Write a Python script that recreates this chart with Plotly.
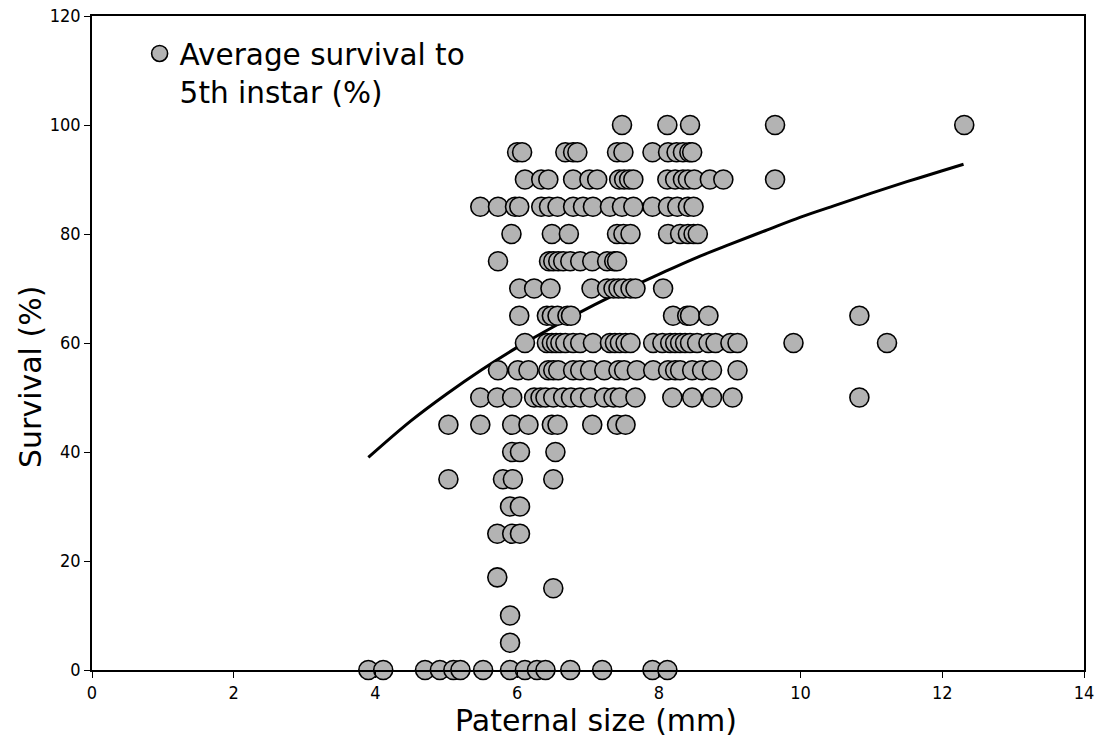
import plotly.graph_objects as go

# Paternal size (mm) per survival level (%)
row_100 = [7.48, 8.12, 8.44, 9.64, 12.31]
row_95 = [6.00, 6.07, 6.68, 6.79, 6.85, 7.41, 7.50, 7.91, 8.13, 8.25, 8.34, 8.43, 8.47]
row_90 = [6.11, 6.34, 6.44, 6.79, 7.02, 7.13, 7.44, 7.51, 7.58, 7.64, 8.12, 8.23, 8.34, 8.41, 8.50, 8.72, 8.91, 9.64]
row_85 = [5.48, 5.73, 5.97, 6.03, 6.34, 6.45, 6.57, 6.79, 6.93, 7.07, 7.31, 7.48, 7.64, 7.91, 8.13, 8.26, 8.41, 8.49]
row_80 = [5.92, 6.49, 6.73, 7.41, 7.50, 7.60, 8.13, 8.30, 8.41, 8.49, 8.55]
row_75 = [5.73, 6.45, 6.51, 6.58, 6.65, 6.75, 6.89, 7.06, 7.27, 7.37, 7.41]
row_70 = [6.03, 6.24, 6.47, 7.05, 7.27, 7.36, 7.43, 7.50, 7.60, 7.67, 8.06]
row_65 = [6.03, 6.42, 6.49, 6.57, 6.71, 6.76, 8.20, 8.40, 8.44, 8.70, 10.83]
row_60 = [6.11, 6.42, 6.49, 6.55, 6.61, 6.68, 6.79, 6.89, 7.07, 7.31, 7.38, 7.45, 7.53, 7.60,
          7.92, 8.05, 8.16, 8.23, 8.30, 8.37, 8.44, 8.54, 8.70, 8.80, 9.01, 9.11, 9.90, 11.22]
row_55 = [5.73, 6.01, 6.16, 6.44, 6.51, 6.58, 6.79, 6.89, 7.03, 7.23, 7.43, 7.51, 7.69, 7.92,
          8.13, 8.23, 8.30, 8.47, 8.61, 8.75, 9.11]
row_50 = [5.48, 5.72, 5.93, 6.24, 6.33, 6.40, 6.51, 6.65, 6.76, 6.89, 7.03, 7.23, 7.36, 7.45,
          7.67, 8.19, 8.47, 8.75, 9.04, 10.83]
row_45 = [5.03, 5.48, 5.93, 6.16, 6.49, 6.57, 7.06, 7.41, 7.53]
row_40 = [5.93, 6.04, 6.54]
row_35 = [5.03, 5.80, 5.94, 6.51]
row_30 = [5.90, 6.04]
row_25 = [5.72, 5.93, 6.04]
row_17 = [5.72]
row_15 = [6.51]
row_10 = [5.90]
row_5 = [5.90]
row_0 = [3.90, 4.11, 4.70, 4.91, 5.10, 5.20, 5.52, 5.90, 6.11, 6.28, 6.40, 6.75, 7.20, 7.91, 8.12]

survival_levels = [100, 95, 90, 85, 80, 75, 70, 65, 60, 55, 50, 45, 40, 35, 30, 25, 17, 15, 10, 5, 0]
rows = [row_100, row_95, row_90, row_85, row_80, row_75, row_70, row_65, row_60, row_55, row_50,
        row_45, row_40, row_35, row_30, row_25, row_17, row_15, row_10, row_5, row_0]

# Trend curve
trend_x = [3.9, 4.5, 5.0, 5.5, 6.0, 6.5, 7.0, 7.5, 8.0, 8.5, 9.0, 9.5, 10.0, 10.5, 11.0, 11.5, 12.0, 12.3]
trend_y = [39.0, 45.7, 50.6, 55.1, 59.2, 62.9, 66.4, 69.6, 72.6, 75.5, 78.1, 80.6, 83.1, 85.3, 87.5, 89.6, 91.6, 92.8]

x_title = "Paternal size (mm)"
y_title = "Survival (%)"

xs, ys = [], []
for lvl, r in zip(survival_levels, rows):
    for v in r:
        xs.append(v)
        ys.append(lvl)

MAIN_FONT = "DejaVu Sans, Verdana, sans-serif"
TICK_FONT = "Liberation Sans Narrow, DejaVu Sans Condensed, Arial Narrow, sans-serif"

fig = go.Figure()
fig.add_trace(go.Scatter(
    x=trend_x, y=trend_y, mode="lines", line=dict(color="black", width=3, shape="spline"),
    showlegend=False, hoverinfo="skip"))
fig.add_trace(go.Scatter(
    x=xs, y=ys, mode="markers", name="Average survival to<br>5th instar (%)",
    marker=dict(size=19, color="#b3b3b3", line=dict(color="black", width=1.6)),
    cliponaxis=False))

axis_common = dict(showline=True, linecolor="black", linewidth=1.5, mirror=True,
                   ticks="outside", ticklen=6, tickcolor="black", tickwidth=1,
                   showgrid=False, zeroline=False, automargin=False,
                   tickfont=dict(family=TICK_FONT, size=18, color="black"))

fig.update_layout(
    width=1099, height=744,
    margin=dict(l=92, r=15, t=16, b=74),
    paper_bgcolor="white", plot_bgcolor="white",
    xaxis=dict(range=[0, 14], dtick=2, **axis_common),
    yaxis=dict(range=[0, 120], dtick=20, **axis_common),
    legend=dict(x=0.048, y=0.982, xanchor="left", yanchor="top", bgcolor="rgba(0,0,0,0)",
                font=dict(family=MAIN_FONT, size=29.5, color="black"), itemsizing="trace",
                itemwidth=30, valign="top"),
    showlegend=True,
    annotations=[
        dict(text=x_title, xref="paper", yref="paper", x=0.508, y=-0.0765,
             xanchor="center", yanchor="middle", showarrow=False,
             font=dict(family=MAIN_FONT, size=30, color="black")),
        dict(text=y_title, xref="paper", yref="paper", x=-0.0625, y=0.448, textangle=-90,
             xanchor="center", yanchor="middle", showarrow=False,
             font=dict(family=MAIN_FONT, size=30, color="black")),
    ],
)

fig.write_html("out.html")
